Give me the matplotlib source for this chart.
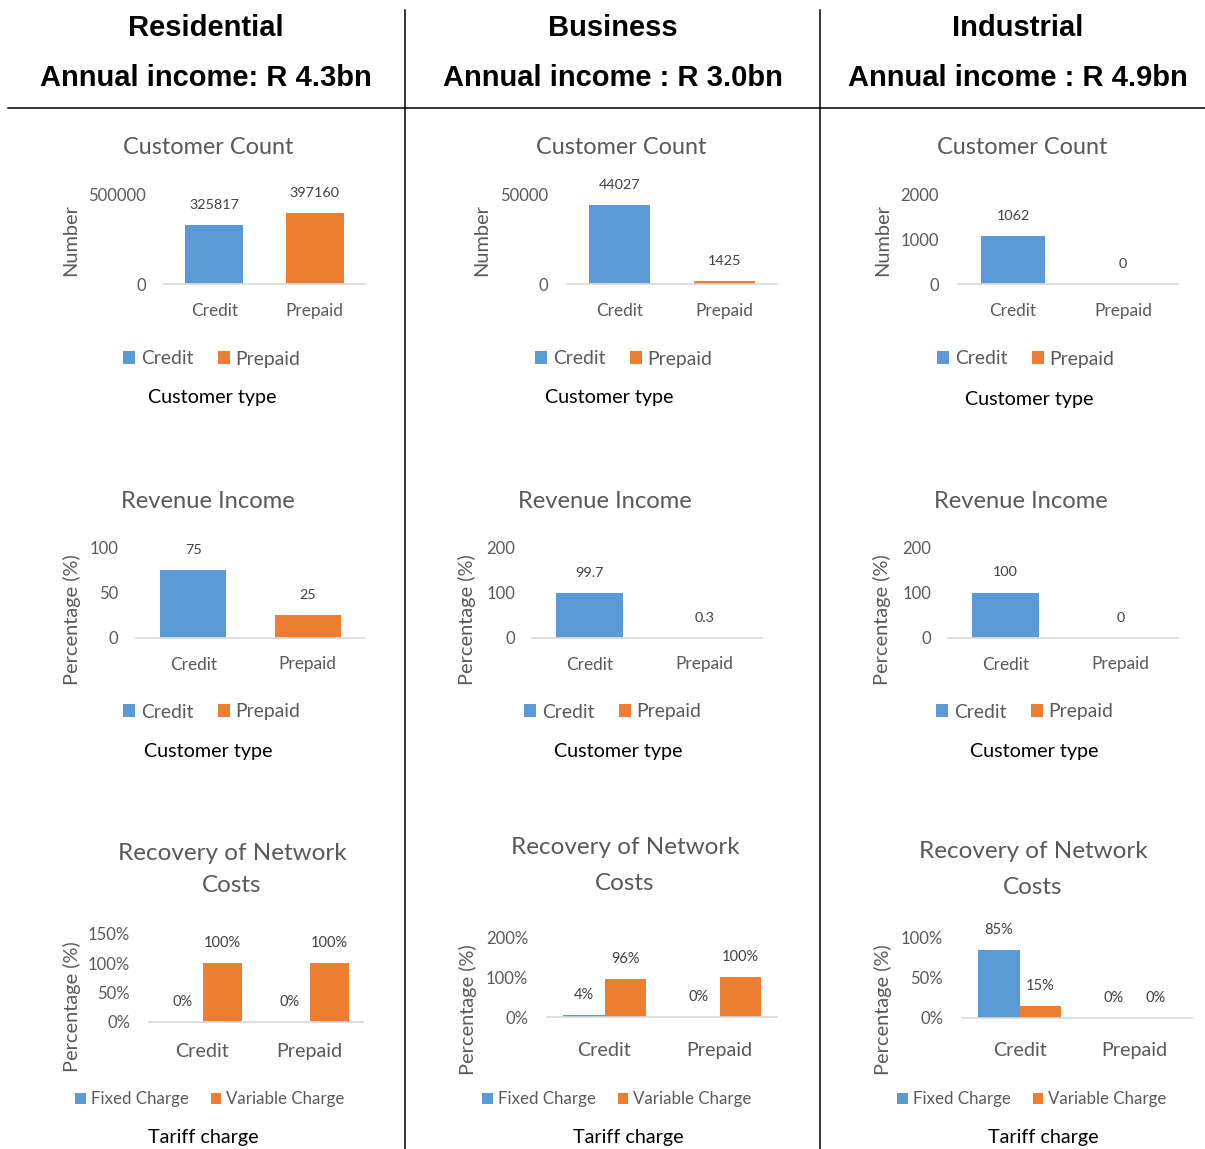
import matplotlib.pyplot as plt
from matplotlib.lines import Line2D

# ---- data ----
SEGMENTS = ["Residential", "Business", "Industrial"]
INCOME_LABELS = ["Annual income: R 4.3bn", "Annual income : R 3.0bn", "Annual income : R 4.9bn"]
CATEGORIES = ["Credit", "Prepaid"]
CHARGE_TYPES = ["Fixed Charge", "Variable Charge"]

CUSTOMER_COUNT = [[325817, 397160], [44027, 1425], [1062, 0]]
COUNT_TICKS = [[0, 500000], [0, 50000], [0, 1000, 2000]]

REVENUE_PCT = [[75, 25], [99.7, 0.3], [100, 0]]
REVENUE_TICKS = [[0, 50, 100], [0, 100, 200], [0, 100, 200]]

FIXED_PCT = [[0, 0], [4, 0], [85, 0]]
VARIABLE_PCT = [[100, 100], [96, 100], [15, 0]]
RECOVERY_TICKS = [[0, 50, 100, 150], [0, 100, 200], [0, 50, 100]]

BLUE = "#5B9BD5"
ORANGE = "#ED7D31"
GREY = "#595959"
LABEL_GREY = "#404040"
AXIS_GREY = "#D9D9D9"

W, H = 1205, 1149

# pixel layout per panel: axes box (x0, x1, ytop, ybase), tick label right edge,
# ylabel pos, title pos, legend pos, x-title pos, xtick label centre y
LAYOUT = {
    0: [
        dict(ax=(164, 365, 194, 284), tick_r=146, ylab=(71, 240), title=(208, [147]), leg=(212, 359), xlab=(212, 397), xtick_y=309),
        dict(ax=(567, 777, 194, 284), tick_r=548, ylab=(482, 240), title=(621, [147]), leg=(624, 359), xlab=(609, 398), xtick_y=309),
        dict(ax=(958, 1178, 194, 284), tick_r=939, ylab=(883, 240), title=(1022, [147]), leg=(1026, 359), xlab=(1029, 399), xtick_y=309),
    ],
    1: [
        dict(ax=(136, 365, 547, 638), tick_r=118, ylab=(72, 620), title=(208, [501]), leg=(212, 712), xlab=(208, 752), xtick_y=663),
        dict(ax=(532, 762, 547, 638), tick_r=515, ylab=(467, 620), title=(605, [501]), leg=(613, 712), xlab=(618, 752), xtick_y=663),
        dict(ax=(948, 1178, 547, 638), tick_r=931, ylab=(882, 620), title=(1021, [501]), leg=(1025, 712), xlab=(1034, 752), xtick_y=663),
    ],
    2: [
        dict(ax=(149, 363, 934, 1022), tick_r=130, ylab=(72, 1007), title=(232, [854, 886]), leg=(210, 1099), xlab=(203, 1137), xtick_y=1050),
        dict(ax=(547, 777, 937, 1017), tick_r=528, ylab=(468, 1010), title=(625, [848, 883]), leg=(617, 1099), xlab=(628, 1137), xtick_y=1049),
        dict(ax=(962, 1192, 938, 1018), tick_r=943, ylab=(883, 1010), title=(1033, [852, 887]), leg=(1032, 1099), xlab=(1043, 1137), xtick_y=1049),
    ],
}

plt.rcParams["font.family"] = ["Lato", "DejaVu Sans"]

fig = plt.figure(figsize=(W / 100, H / 100), dpi=100)


def fx(x):
    return x / W


def fy(y):
    return 1 - y / H


def make_axes(spec, ticks, ymax, tick_size, xtick_size):
    x0, x1, ytop, ybase = spec["ax"]
    ax = fig.add_axes([fx(x0), fy(ybase), (x1 - x0) / W, (ybase - ytop) / H])
    ax.set_xlim(-0.5, 1.5)
    ax.set_ylim(0, ymax)
    for side in ["top", "right", "left"]:
        ax.spines[side].set_visible(False)
    ax.spines["bottom"].set_color(AXIS_GREY)
    ax.spines["bottom"].set_linewidth(1.2)
    ax.tick_params(length=0, colors=GREY)
    ax.tick_params(axis="y", pad=(x0 - spec["tick_r"]) * 0.72, labelsize=tick_size)
    ax.tick_params(axis="x", pad=(spec["xtick_y"] - ybase) * 0.72, labelsize=xtick_size)
    ax.set_yticks(ticks)
    ax.set_xticks([0, 1])
    ax.set_xticklabels(CATEGORIES, va="center_baseline")
    ax.patch.set_visible(False)
    return ax


def bar_label(ax, x, v, text, size):
    ax.annotate(text, (x, v), xytext=(0, 14.4), textcoords="offset points",
                ha="center", va="center", fontsize=size, color=LABEL_GREY,
                annotation_clip=False)


def panel_text(spec, title, title_size, ylabel, xlabel):
    tx, tys = spec["title"]
    for line, ty in zip(title, tys):
        fig.text(fx(tx), fy(ty), line, ha="center", va="center", fontsize=title_size, color=GREY)
    fig.text(fx(spec["ylab"][0]), fy(spec["ylab"][1]), ylabel, rotation=90,
             ha="center", va="center", fontsize=14.4, color=GREY)
    fig.text(fx(spec["xlab"][0]), fy(spec["xlab"][1]), xlabel,
             ha="center", va="center", fontsize=14.2, color="black")


def add_legend(ax, spec, handles, labels, size, colspace):
    ax.legend(handles, labels, loc="center", ncol=2, frameon=False,
              bbox_to_anchor=(fx(spec["leg"][0]), fy(spec["leg"][1])),
              bbox_transform=fig.transFigure, fontsize=size, labelcolor=GREY,
              handlelength=0.62, handleheight=0.62, handletextpad=0.3,
              columnspacing=colspace, borderpad=0, borderaxespad=0)


# ---- row 1: customer count ----
for col in range(3):
    spec = LAYOUT[0][col]
    ticks = COUNT_TICKS[col]
    ax = make_axes(spec, ticks, ticks[-1], 12, 12.4)
    vals = CUSTOMER_COUNT[col]
    bars = ax.bar([0, 1], vals, width=0.58, color=[BLUE, ORANGE])
    for i, v in enumerate(vals):
        bar_label(ax, i, v, f"{v:g}", 10.4)
    add_legend(ax, spec, list(bars), CATEGORIES, 13.9, 1.25)
    panel_text(spec, ["Customer Count"], 16.9, "Number", "Customer type")

# ---- row 2: revenue income ----
for col in range(3):
    spec = LAYOUT[1][col]
    ticks = REVENUE_TICKS[col]
    ax = make_axes(spec, ticks, ticks[-1], 12, 12.4)
    vals = REVENUE_PCT[col]
    bars = ax.bar([0, 1], vals, width=0.575, color=[BLUE, ORANGE])
    for i, v in enumerate(vals):
        bar_label(ax, i, v, f"{v:g}", 10.4)
    add_legend(ax, spec, list(bars), CATEGORIES, 13.9, 1.25)
    panel_text(spec, ["Revenue Income"], 17.1, "Percentage (%)", "Customer type")

# ---- row 3: recovery of network costs ----
bw = 0.365
for col in range(3):
    spec = LAYOUT[2][col]
    ticks = RECOVERY_TICKS[col]
    ax = make_axes(spec, ticks, ticks[-1], 12, 14.2)
    ax.set_yticklabels([f"{t}%" for t in ticks])
    fixed = FIXED_PCT[col]
    var = VARIABLE_PCT[col]
    b1 = ax.bar([i - bw / 2 for i in range(2)], fixed, width=bw, color=BLUE)
    b2 = ax.bar([i + bw / 2 for i in range(2)], var, width=bw, color=ORANGE)
    for i in range(2):
        bar_label(ax, i - bw / 2, fixed[i], f"{fixed[i]:g}%", 10.5)
        bar_label(ax, i + bw / 2, var[i], f"{var[i]:g}%", 10.5)
    add_legend(ax, spec, [b1, b2], CHARGE_TYPES, 12.2, 1.3)
    panel_text(spec, ["Recovery of Network", "Costs"], 17.5, "Percentage (%)", "Tariff charge")

# ---- headers and separators ----
header_x = [206, 613, 1018]
for name, income, hx in zip(SEGMENTS, INCOME_LABELS, header_x):
    fig.text(fx(hx), fy(28), name, ha="center", va="center", fontsize=21,
             fontweight="bold", family=["Liberation Sans", "DejaVu Sans"])
    fig.text(fx(hx), fy(78), income, ha="center", va="center", fontsize=21,
             fontweight="bold", family=["Liberation Sans", "DejaVu Sans"])

fig.add_artist(Line2D([fx(8), fx(1205)], [fy(108), fy(108)], color="black", lw=1.1))
for vx in [405, 820]:
    fig.add_artist(Line2D([fx(vx), fx(vx)], [fy(10), fy(1149)], color="black", lw=1.1))

fig.savefig("out.png", dpi=100, facecolor="white")
